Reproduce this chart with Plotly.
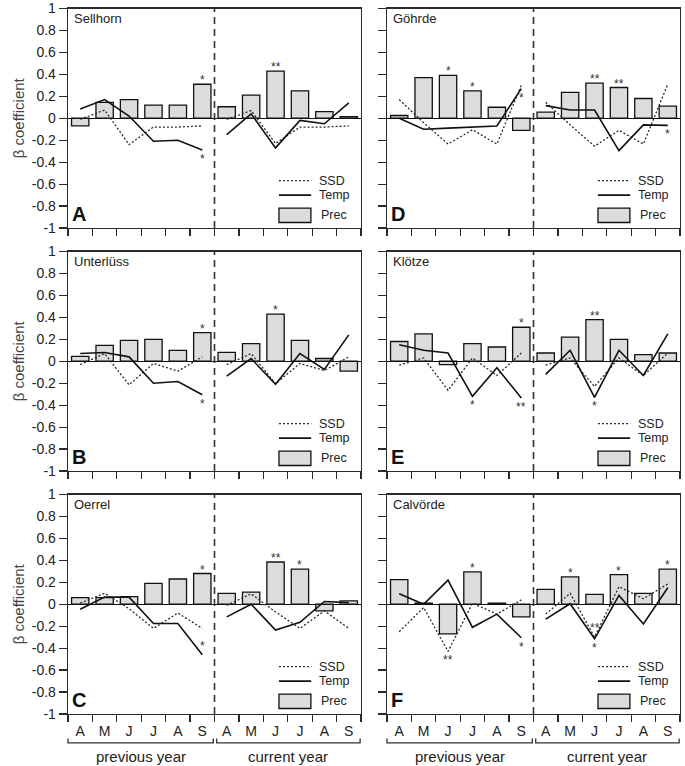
import plotly.graph_objects as go

# ---------------- data ----------------
months = ["A", "M", "J", "J", "A", "S"]
month_labels = months + months
month_ids = ["pA", "pM", "pJn", "pJl", "pAu", "pS", "cA", "cM", "cJn", "cJl", "cAu", "cS"]
y_tick_values = [-1, -0.8, -0.6, -0.4, -0.2, 0, 0.2, 0.4, 0.6, 0.8, 1]
y_tick_labels = ["-1", "-0.8", "-0.6", "-0.4", "-0.2", "0", "0.2", "0.4", "0.6", "0.8", "1"]
period_labels = ["previous year", "current year"]

site_names = ["Sellhorn", "Unterlüss", "Oerrel", "Göhrde", "Klötze", "Calvörde"]
panel_letters = ["A", "B", "C", "D", "E", "F"]

prec_sellhorn = [-0.07, 0.145, 0.17, 0.12, 0.12, 0.31, 0.105, 0.21, 0.43, 0.25, 0.06, 0.015]
ssd_sellhorn = [-0.01, 0.075, -0.24, -0.08, -0.08, -0.07, -0.01, 0.07, -0.23, -0.08, -0.08, -0.07]
temp_sellhorn = [0.085, 0.17, 0.02, -0.21, -0.2, -0.29, -0.15, 0.04, -0.27, -0.02, -0.05, 0.14]

prec_unterluess = [0.045, 0.145, 0.19, 0.20, 0.10, 0.26, 0.08, 0.16, 0.43, 0.19, 0.025, -0.09]
ssd_unterluess = [-0.03, 0.07, -0.215, -0.02, -0.09, 0.04, -0.03, 0.07, -0.205, -0.02, -0.085, 0.04]
temp_unterluess = [0.07, 0.08, 0.04, -0.2, -0.185, -0.305, -0.135, 0.025, -0.21, 0.07, -0.075, 0.24]

prec_oerrel = [0.06, 0.06, 0.07, 0.19, 0.23, 0.28, 0.10, 0.11, 0.385, 0.32, -0.06, 0.03]
ssd_oerrel = [0.01, 0.10, -0.04, -0.22, -0.08, -0.22, -0.01, 0.095, -0.07, -0.22, -0.06, -0.22]
temp_oerrel = [-0.045, 0.065, 0.065, -0.175, -0.175, -0.46, -0.115, 0.0, -0.235, -0.165, 0.025, 0.015]

prec_goehrde = [0.025, 0.37, 0.39, 0.25, 0.10, -0.11, 0.055, 0.235, 0.32, 0.28, 0.18, 0.11]
ssd_goehrde = [0.17, -0.04, -0.235, -0.105, -0.235, 0.30, 0.145, -0.06, -0.255, -0.11, -0.235, 0.31]
temp_goehrde = [0.0, -0.1, -0.09, -0.08, -0.07, 0.27, 0.115, 0.075, 0.075, -0.295, -0.06, -0.065]

prec_kloetze = [0.18, 0.25, -0.03, 0.16, 0.13, 0.31, 0.075, 0.22, 0.38, 0.20, 0.06, 0.075]
ssd_kloetze = [-0.035, 0.03, -0.265, 0.03, -0.13, 0.075, -0.035, 0.03, -0.23, 0.03, -0.13, 0.075]
temp_kloetze = [0.15, 0.10, 0.075, -0.32, -0.06, -0.335, -0.12, 0.10, -0.33, 0.10, -0.13, 0.25]

prec_calvoerde = [0.225, 0.01, -0.27, 0.295, 0.01, -0.115, 0.135, 0.25, 0.09, 0.27, 0.10, 0.32]
ssd_calvoerde = [-0.25, -0.03, -0.43, 0.01, -0.09, 0.04, -0.09, 0.10, -0.30, 0.16, 0.05, 0.185]
temp_calvoerde = [0.095, 0.0, 0.22, -0.21, -0.09, -0.305, -0.135, 0.005, -0.315, 0.08, -0.18, 0.15]

prec = [prec_sellhorn, prec_unterluess, prec_oerrel, prec_goehrde, prec_kloetze, prec_calvoerde]
ssd = [ssd_sellhorn, ssd_unterluess, ssd_oerrel, ssd_goehrde, ssd_kloetze, ssd_calvoerde]
temp = [temp_sellhorn, temp_unterluess, temp_oerrel, temp_goehrde, temp_kloetze, temp_calvoerde]

# significance markers: (panel, month index, series, text, side)
significance = [
    (0, 5, "prec", "*", "above"), (0, 5, "temp", "*", "below"), (0, 8, "prec", "**", "above"),
    (1, 5, "prec", "*", "above"), (1, 5, "temp", "*", "below"), (1, 8, "prec", "*", "above"),
    (2, 5, "prec", "*", "above"), (2, 5, "temp", "*", "above"), (2, 8, "prec", "**", "above"),
    (2, 9, "prec", "*", "above"),
    (3, 2, "prec", "*", "above"), (3, 3, "prec", "*", "above"), (3, 5, "temp", "*", "below"),
    (3, 8, "prec", "**", "above"), (3, 9, "prec", "**", "above"), (3, 11, "temp", "*", "below"),
    (4, 5, "prec", "*", "above"), (4, 3, "temp", "*", "below"), (4, 5, "temp", "**", "below"),
    (4, 8, "prec", "**", "above"), (4, 8, "temp", "*", "below"),
    (5, 3, "prec", "*", "above"), (5, 2, "ssd", "**", "below"), (5, 5, "temp", "*", "below"),
    (5, 7, "prec", "*", "above"), (5, 9, "prec", "*", "above"), (5, 11, "prec", "*", "above"),
    (5, 8, "ssd", "**", "above"), (5, 8, "temp", "*", "below"),
]

# ---------------- layout geometry ----------------
W, H = 685, 766
ML, MR, MT, MB = 68, 5, 8, 52
PW, PH = W - ML - MR, H - MT - MB
col_px = [(68, 361), (387, 680)]
row_px = [(8.5, 228), (251.5, 471), (494.5, 714)]

FONT = "Liberation Sans, Arial, sans-serif"
DARK = "#2a2a2a"
BAR_FILL = "#dcdcdc"
SSD_DASH = "2px,2px"

series_map = {"prec": prec, "ssd": ssd, "temp": temp}

fig = go.Figure()
shapes = []
annotations = []
layout_axes = {}

for k in range(6):
    col, row = k // 3, k % 3
    n = "" if k == 0 else str(k + 1)
    xa, ya = "x" + n, "y" + n
    fig.add_trace(go.Bar(
        x=month_ids, y=prec[k], xaxis=xa, yaxis=ya, name="Prec", showlegend=False,
        marker=dict(color=BAR_FILL, line=dict(color="#111111", width=1.3)),
    ))
    for half in (slice(0, 6), slice(6, 12)):
        fig.add_trace(go.Scatter(
            x=month_ids[half], y=ssd[k][half], xaxis=xa, yaxis=ya, mode="lines",
            name="SSD", showlegend=False,
            line=dict(color="#2a2a2a", width=1.3, dash=SSD_DASH),
        ))
        fig.add_trace(go.Scatter(
            x=month_ids[half], y=temp[k][half], xaxis=xa, yaxis=ya, mode="lines",
            name="Temp", showlegend=False,
            line=dict(color="#111111", width=1.6),
        ))

    x0p, x1p = col_px[col]
    tp, bp = row_px[row]
    xdom = [(x0p - ML) / PW, (x1p - ML) / PW]
    ydom = [(MT + PH - bp) / PH, (MT + PH - tp) / PH]

    layout_axes["xaxis" + n] = dict(
        domain=xdom, anchor=ya, type="category",
        categoryorder="array", categoryarray=month_ids,
        tickmode="array", tickvals=month_ids, ticktext=month_labels,
        tickson="boundaries", ticks="outside", ticklen=7, tickwidth=1.2, tickcolor=DARK,
        showline=True, linecolor=DARK, linewidth=1.3, mirror=True,
        showgrid=False, range=[-0.5, 11.5], fixedrange=True,
        showticklabels=(row == 2), ticklabelstandoff=4,
        tickfont=dict(family=FONT, size=14, color="#222222"),
    )
    yax = dict(
        domain=ydom, anchor=xa, range=[-1, 1],
        tickmode="array", tickvals=y_tick_values, ticktext=y_tick_labels,
        ticks="outside", ticklen=8, tickwidth=1.2, tickcolor=DARK,
        showline=True, linecolor=DARK, linewidth=1.3, mirror=True,
        showgrid=False, zeroline=True, zerolinecolor="#111111", zerolinewidth=1.2,
        fixedrange=True, showticklabels=(col == 0),
        tickfont=dict(family=FONT, size=14, color="#222222"),
    )
    if col == 0:
        yax["title"] = dict(text="β coefficient", font=dict(family=FONT, size=15, color="#444444"),
                            standoff=3)
    layout_axes["yaxis" + n] = yax

    # dashed separator between previous and current year
    shapes.append(dict(type="line", xref=xa, yref=ya + " domain", x0=5.5, x1=5.5, y0=0, y1=1,
                       line=dict(color="#333333", width=1.6, dash="7px,5px"), layer="above"))

    # legend block
    xd, yd = xa + " domain", ya + " domain"
    shapes.append(dict(type="line", xref=xd, yref=yd, x0=0.72, x1=0.83, y0=0.216, y1=0.216,
                       line=dict(color="#2a2a2a", width=1.3, dash=SSD_DASH)))
    shapes.append(dict(type="line", xref=xd, yref=yd, x0=0.72, x1=0.83, y0=0.150, y1=0.150,
                       line=dict(color="#111111", width=1.6)))
    shapes.append(dict(type="rect", xref=xd, yref=yd, x0=0.72, x1=0.829, y0=0.025, y1=0.091,
                       fillcolor=BAR_FILL, line=dict(color="#111111", width=1.3)))
    for txt, xx, yy in (("SSD", 0.852, 0.216), ("Temp", 0.852, 0.150), ("Prec", 0.861, 0.058)):
        annotations.append(dict(text=txt, xref=xd, yref=yd, x=xx, y=yy, xanchor="left",
                                yanchor="middle", showarrow=False, borderpad=0,
                                font=dict(family=FONT, size=12.5, color="#222222")))

    # site name and panel letter
    annotations.append(dict(text=site_names[k], xref=xd, yref=yd, x=0.014, y=0.956,
                            xanchor="left", yanchor="middle", showarrow=False,
                            font=dict(family=FONT, size=13, color="#222222")))
    annotations.append(dict(text="<b>%s</b>" % panel_letters[k], xref=xd, yref=yd, x=0.008, y=0.062,
                            xanchor="left", yanchor="middle", showarrow=False,
                            font=dict(family=FONT, size=20, color="#111111")))

    # bottom row: period brackets + labels
    if row == 2:
        for (b0, b1), lab, cx in (((0.0, 0.496), period_labels[0], 0.25),
                                  ((0.5075, 0.997), period_labels[1], 0.75)):
            shapes.append(dict(type="path", xref=xd, yref=yd,
                               path="M %f,%f L %f,%f L %f,%f L %f,%f" % (
                                   b0, -0.112, b0, -0.132, b1, -0.132, b1, -0.112),
                               line=dict(color="#333333", width=1.3)))
            annotations.append(dict(text=lab, xref=xd, yref=yd, x=cx, y=-0.192,
                                    xanchor="center", yanchor="middle", showarrow=False,
                                    font=dict(family=FONT, size=15, color="#222222")))

# significance asterisks, placed from the data values
for (k, i, s, txt, side) in significance:
    n = "" if k == 0 else str(k + 1)
    val = series_map[s][k][i]
    if side == "above":
        shift = 4 if s == "prec" else 9
    else:
        shift = -9
    annotations.append(dict(
        text=txt, xref="x" + n, yref="y" + n, x=month_ids[i], y=val,
        xanchor="center", yanchor="middle", showarrow=False, yshift=shift,
        font=dict(family=FONT, size=12, color="#333333"),
    ))

fig.update_layout(
    width=W, height=H,
    margin=dict(l=ML, r=MR, t=MT, b=MB, autoexpand=False),
    paper_bgcolor="white", plot_bgcolor="white",
    bargap=0.29, showlegend=False,
    font=dict(family=FONT, size=13, color="#222222"),
    shapes=shapes, annotations=annotations,
    **layout_axes,
)

fig.write_html("out.html", config={"displayModeBar": False, "staticPlot": True},
               post_script="document.body.style.margin='0px';")
